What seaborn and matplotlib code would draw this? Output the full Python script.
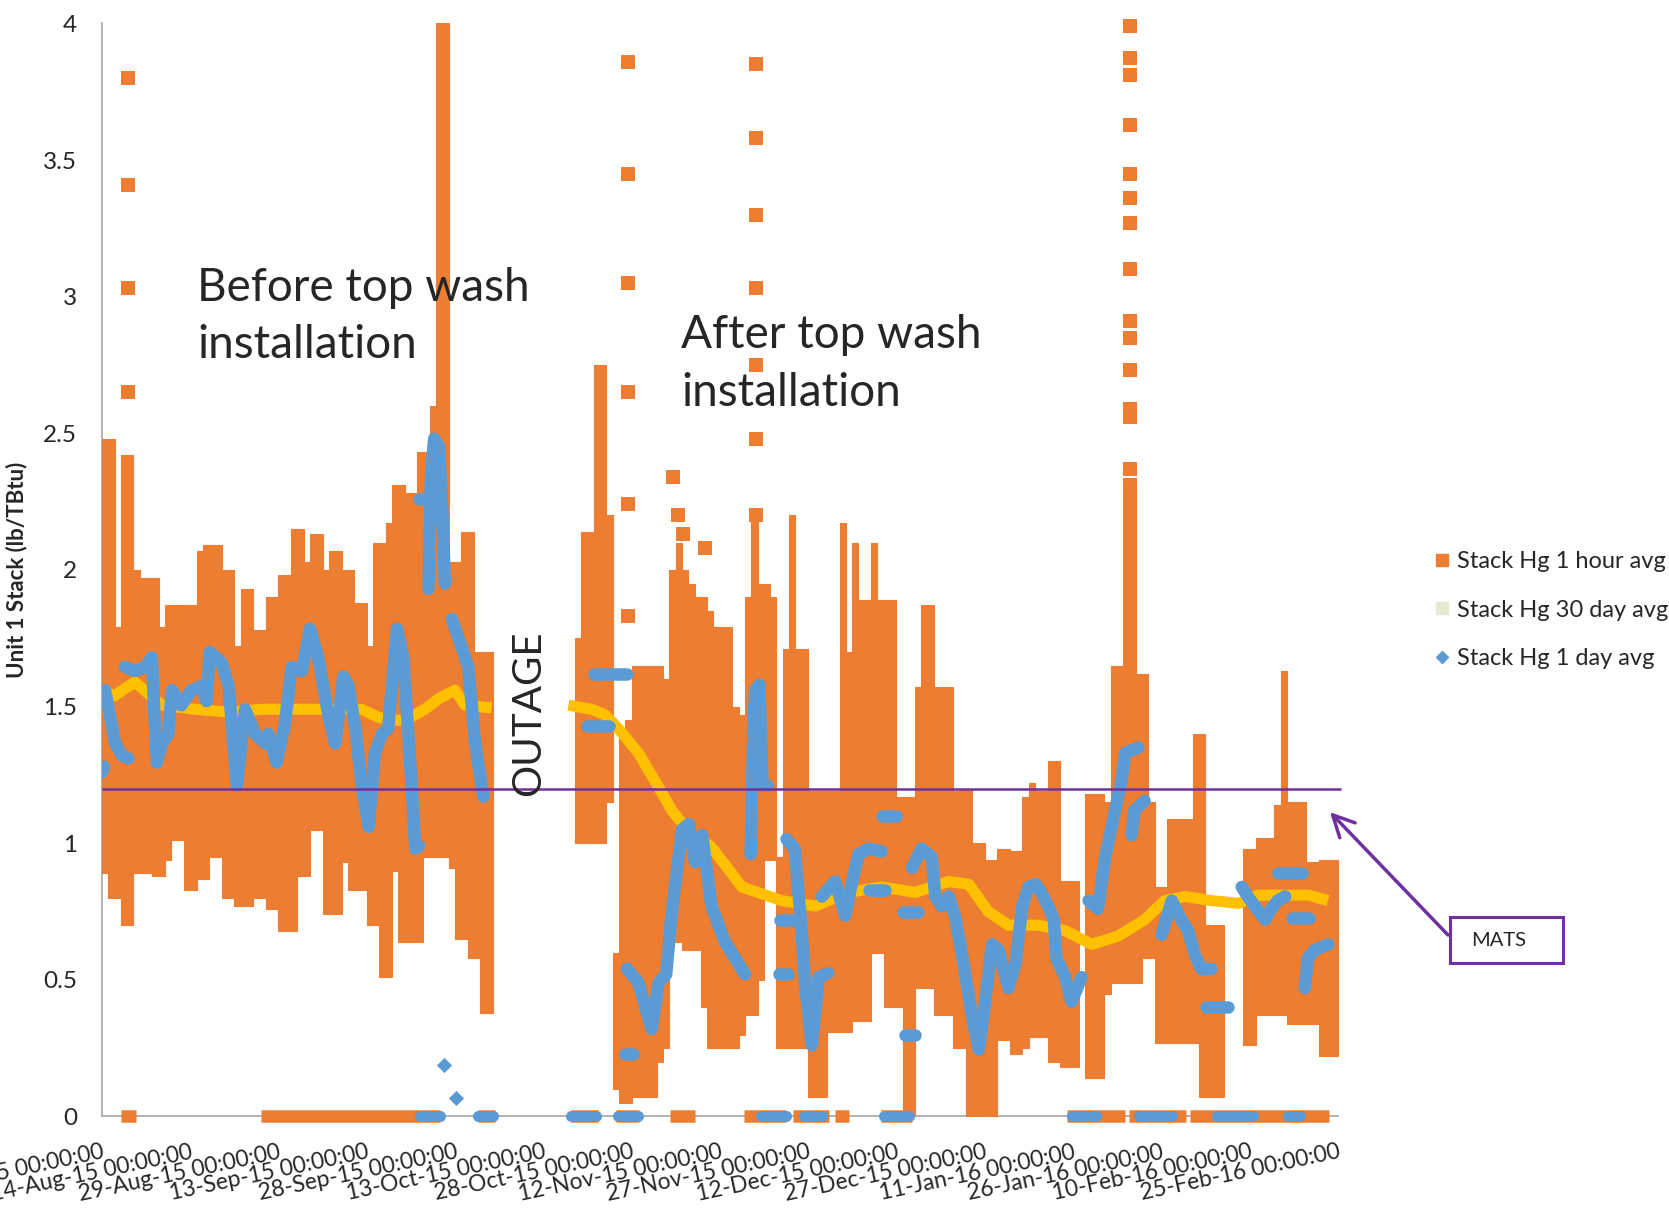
import numpy as np
import pandas as pd
import matplotlib
matplotlib.use("Agg")
import matplotlib.pyplot as plt
from matplotlib.lines import Line2D
from matplotlib.patches import Rectangle
import seaborn as sns

nan = np.nan

# x axis: days since the first tick, one tick mark every 14 days
tick_labels = ["30-Jul-15 00:00:00", "14-Aug-15 00:00:00", "29-Aug-15 00:00:00",
               "13-Sep-15 00:00:00", "28-Sep-15 00:00:00", "13-Oct-15 00:00:00",
               "28-Oct-15 00:00:00", "12-Nov-15 00:00:00", "27-Nov-15 00:00:00",
               "12-Dec-15 00:00:00", "27-Dec-15 00:00:00", "11-Jan-16 00:00:00",
               "26-Jan-16 00:00:00", "10-Feb-16 00:00:00", "25-Feb-16 00:00:00"]

# Stack Hg 1 hour avg: daily spread of the hourly values (high / low), day 0..195
hour_high = [2.48, 2.48, 1.79, 2.42, 2.42, 2.0, 1.97, 1.97, 1.97, 1.79,
             1.87, 1.87, 1.87, 1.87, 1.87, 2.07, 2.09, 2.09, 2.09, 2.0,
             2.0, 1.72, 1.93, 1.93, 1.78, 1.78, 1.9, 1.9, 1.98, 1.98,
             2.15, 2.15, 2.03, 2.13, 2.13, 2.0, 2.07, 2.07, 2.0, 2.0,
             1.88, 1.88, 1.72, 2.1, 2.1, 2.17, 2.31, 2.31, 2.28, 2.28,
             2.43, 2.43, 2.6, 4.0, 4.0, 2.03, 2.03, 2.14, 2.14, 1.7,
             1.7, 1.7, nan, nan, nan, nan, nan, nan, nan, nan,
             nan, nan, nan, nan, nan, 1.75, 2.14, 2.14, 2.75, 2.75,
             2.2, 0.6, 1.4, 1.45, 1.65, 1.65, 1.65, 1.65, 1.65, 1.6,
             2.0, 2.1, 2.0, 1.95, 1.9, 1.9, 1.85, 1.79, 1.79, 1.79,
             1.5, 1.47, 1.9, 2.2, 1.95, 1.95, 1.9, 0.95, 1.71, 2.2,
             1.71, 1.71, 1.19, 1.19, 1.19, 1.19, 1.19, 2.17, 1.7, 2.1,
             1.89, 1.89, 2.1, 1.89, 1.89, 1.89, 1.17, 1.17, 1.17, 1.57,
             1.87, 1.87, 1.57, 1.57, 1.57, 1.19, 1.2, 1.2, 1.0, 1.0,
             0.94, 0.94, 0.98, 0.98, 0.97, 0.97, 1.17, 1.22, 1.19, 1.19,
             1.3, 1.3, 0.86, 0.86, 0.86, nan, 1.18, 1.18, 1.18, 1.15,
             1.65, 1.65, 2.3, 2.3, 1.62, 1.62, 1.15, 0.84, 0.84, 1.09,
             1.09, 1.09, 1.09, 1.4, 1.4, 0.7, 0.7, 0.7, nan, nan,
             nan, 0.98, 0.98, 1.02, 1.02, 1.02, 1.14, 1.63, 1.15, 1.15,
             1.15, 0.93, 0.93, 0.94, 0.94, 0.94]
hour_low = [0.89, 0.8, 0.8, 0.7, 0.7, 0.89, 0.89, 0.89, 0.88, 0.88,
            0.94, 1.01, 1.01, 0.83, 0.83, 0.87, 0.87, 0.95, 0.95, 0.8,
            0.8, 0.77, 0.77, 0.77, 0.8, 0.8, 0.76, 0.76, 0.68, 0.68,
            0.68, 0.88, 0.88, 1.05, 1.05, 0.74, 0.74, 0.74, 0.93, 0.83,
            0.83, 0.83, 0.7, 0.7, 0.51, 0.51, 0.9, 0.64, 0.64, 0.64,
            0.64, 0.95, 0.95, 0.95, 0.95, 0.91, 0.65, 0.65, 0.58, 0.58,
            0.38, 0.38, nan, nan, nan, nan, nan, nan, nan, nan,
            nan, nan, nan, nan, nan, 1.0, 1.0, 1.0, 1.0, 1.0,
            1.15, 0.1, 0.05, 0.05, 0.07, 0.07, 0.07, 0.07, 0.2, 0.25,
            0.64, 0.64, 0.61, 0.61, 0.61, 0.4, 0.25, 0.25, 0.25, 0.25,
            0.25, 0.3, 0.37, 0.37, 0.5, 0.94, 0.94, 0.25, 0.25, 0.25,
            0.25, 0.25, 0.07, 0.07, 0.07, 0.31, 0.31, 0.31, 0.31, 0.35,
            0.35, 0.35, 0.6, 0.6, 0.4, 0.4, 0.4, 0.0, 0.0, 0.47,
            0.47, 0.47, 0.37, 0.37, 0.37, 0.25, 0.25, 0.0, 0.0, 0.0,
            0.0, 0.0, 0.28, 0.28, 0.23, 0.23, 0.25, 0.29, 0.29, 0.29,
            0.2, 0.2, 0.18, 0.18, 0.18, nan, 0.14, 0.14, 0.14, 0.45,
            0.49, 0.49, 0.49, 0.49, 0.49, 0.58, 0.58, 0.27, 0.27, 0.27,
            0.27, 0.27, 0.27, 0.27, 0.07, 0.07, 0.07, 0.07, nan, nan,
            nan, 0.26, 0.26, 0.37, 0.37, 0.37, 0.37, 0.37, 0.34, 0.34,
            0.34, 0.34, 0.34, 0.22, 0.22, 0.22]

# isolated hourly values standing above the daily spread
spike_day = [4.2, 4.2, 4.2, 4.2,
             83.5, 83.5, 83.5, 83.5, 83.5, 83.5,
             90.6, 91.3, 92.2, 95.6,
             103.8, 103.8, 103.8, 103.8, 103.8, 103.8, 103.8,
             163.0, 163.0, 163.0, 163.0, 163.0, 163.0, 163.0, 163.0,
             163.0, 163.0, 163.0, 163.0, 163.0, 163.0, 163.0]
spike_val = [3.80, 3.41, 3.03, 2.65,
             3.86, 3.45, 3.05, 2.65, 2.24, 1.83,
             2.34, 2.2, 2.13, 2.08,
             3.85, 3.58, 3.30, 3.03, 2.75, 2.48, 2.2,
             3.99, 3.875, 3.81, 3.63, 3.45, 3.36, 3.27, 3.10,
             2.91, 2.85, 2.73, 2.59, 2.56, 2.37, 2.31]

# hours reading zero (start / end day)
zero_start = [3.0, 25.2, 59.6, 74.4, 81.5, 90.1, 101.9, 109.6, 116.3, 123.6, 153.1, 162.9, 172.6]
zero_end = [5.4, 53.6, 62.3, 78.7, 85.2, 94.1, 108.5, 115.3, 118.5, 128.5, 162.3, 172.0, 194.7]

# Stack Hg 30 day avg
avg30_day = [0, 2, 5.2, 9.5, 14.8, 20, 25.3, 30.6, 35.9, 41.2, 43.9, 46.5, 48.1, 51.2,
             53.5, 56, 57.6, 61.8,
             74.0, 77.7, 79.8, 81.9, 85.1, 87.8, 90.4, 93.6, 96.5, 98.9, 101.5, 104.0,
             107.8, 113.1, 118.4, 123.7, 129.0, 134.3, 137.5, 140.6, 143.8, 148.5,
             152.8, 157.0, 161.2, 165.4, 168.6, 171.8, 176.0, 180.3, 183.4, 191.4, 194.5]
avg30_val = [1.56, 1.54, 1.59, 1.505, 1.49, 1.48, 1.49, 1.49, 1.49, 1.49, 1.46, 1.45, 1.45, 1.49,
             1.53, 1.56, 1.505, 1.495,
             1.505, 1.49, 1.47, 1.42, 1.33, 1.225, 1.12, 1.03, 0.99, 0.92, 0.84, 0.82,
             0.79, 0.77, 0.82, 0.84, 0.82, 0.86, 0.85, 0.75, 0.70, 0.70,
             0.68, 0.63, 0.66, 0.72, 0.79, 0.805, 0.79, 0.78, 0.81, 0.81, 0.79]
avg30_seg = [0] * 18 + [1] * 33

# Stack Hg 1 day avg
avg1_day = [0.0, 0.3,
            0.5, 2.1, 3.2, 4.2,
            3.7, 5.2, 6.8, 7.9, 8.7, 9.5, 10.5, 11.1, 12.6, 14.2, 15.8, 16.6, 17.1, 19.0,
            20.1, 21.4, 22.7, 24.3, 25.9, 26.4, 27.7, 29.0, 30.1, 31.7, 33.0, 34.3, 35.9,
            37.0, 38.3, 39.1, 40.2, 41.2, 42.3, 43.3, 44.4, 45.4, 46.8, 47.8, 48.9, 49.7, 50.3,
            50.3, 52.0,
            51.8, 52.2, 52.7, 53.5, 54.0, 54.4,
            55.5, 57.1, 58.1, 59.2, 60.5,
            78.0, 83.3,
            77.0, 80.5,
            83.0, 84.3,
            83.3, 85.1, 87.2, 88.3, 89.5, 90.4, 92.0, 93.1, 94.1, 95.2, 96.7, 97.5, 98.8,
            100.4, 102.0,
            102.9, 103.2, 103.6, 104.3, 104.6, 104.8, 105.6,
            107.4, 108.9,
            107.6, 110.0,
            108.6, 109.9, 111.0, 111.5, 112.6, 113.7, 115.2,
            114.2, 116.3, 117.9, 119.0, 120.0, 121.6, 123.7,
            123.7, 126.0,
            121.6, 124.2,
            127.0, 129.5,
            127.4, 129.0,
            128.5, 130.0, 131.6, 132.2, 133.2, 134.3, 135.3, 136.4, 138.0, 139.1, 140.1,
            141.2, 142.2, 143.8, 144.9, 146.0, 147.0, 148.1, 149.0, 150.1, 151.0, 151.4,
            152.8, 153.8, 155.4,
            156.5, 158.0, 159.1, 160.7, 161.7, 162.3, 164.4,
            163.3, 163.8, 165.4,
            168.1, 169.7, 171.2, 172.3, 173.4, 174.4, 176.0,
            175.2, 178.7,
            180.8, 181.9, 182.9, 184.5, 185.5, 186.5, 187.7,
            186.6, 190.3,
            188.7, 191.4,
            190.8, 191.3, 192.4, 194.5]
avg1_val = [1.26, 1.28,
            1.56, 1.365, 1.32, 1.31,
            1.645, 1.63, 1.645, 1.68, 1.295, 1.365, 1.40, 1.56, 1.505, 1.56, 1.575, 1.52, 1.70, 1.66,
            1.575, 1.21, 1.49, 1.40, 1.365, 1.40, 1.295, 1.435, 1.645, 1.63, 1.785, 1.68, 1.47,
            1.365, 1.61, 1.575, 1.42, 1.21, 1.06, 1.33, 1.40, 1.42, 1.785, 1.68, 1.295, 0.98, 0.99,
            2.26, 2.26,
            1.93, 2.35, 2.48, 2.45, 2.2, 1.95,
            1.82, 1.715, 1.645, 1.365, 1.17,
            1.62, 1.62,
            1.43, 1.43,
            0.23, 0.23,
            0.54, 0.49, 0.32, 0.49, 0.52, 0.75, 1.05, 1.07, 0.93, 1.03, 0.77, 0.72, 0.64,
            0.58, 0.52,
            0.96, 1.30, 1.56, 1.58, 1.35, 1.21, 1.21,
            0.52, 0.52,
            0.72, 0.72,
            1.015, 0.98, 0.68, 0.49, 0.26, 0.51, 0.525,
            0.805, 0.86, 0.735, 0.86, 0.96, 0.98, 0.97,
            1.10, 1.10,
            0.83, 0.83,
            0.75, 0.75,
            0.30, 0.30,
            0.91, 0.98, 0.95, 0.805, 0.77, 0.805, 0.735, 0.595, 0.37, 0.245, 0.42,
            0.63, 0.61, 0.47, 0.56, 0.77, 0.84, 0.85, 0.82, 0.77, 0.72, 0.58,
            0.51, 0.42, 0.51,
            0.79, 0.76, 0.945, 1.12, 1.225, 1.33, 1.35,
            1.03, 1.12, 1.155,
            0.665, 0.79, 0.72, 0.68, 0.59, 0.54, 0.54,
            0.40, 0.40,
            0.84, 0.80, 0.77, 0.72, 0.76, 0.79, 0.805,
            0.89, 0.89,
            0.725, 0.725,
            0.47, 0.58, 0.61, 0.63]
avg1_seg = ([0] * 2 + [1] * 4 + [2] * 41 + [3] * 2 + [4] * 6 + [5] * 5 + [6] * 2 + [7] * 2
            + [8] * 2 + [9] * 15 + [10] * 7 + [11] * 2 + [12] * 2 + [13] * 7 + [14] * 7
            + [15] * 2 + [16] * 2 + [17] * 2 + [18] * 2 + [19] * 25 + [20] * 7 + [21] * 3
            + [22] * 7 + [23] * 2 + [24] * 7 + [25] * 2 + [26] * 2 + [27] * 4)
avg1_dot_day = [54.3, 56.1]
avg1_dot_val = [0.187, 0.066]
avg1_zero_start = [50.4, 59.6, 74.4, 81.8, 104.6, 111.4, 124.0, 153.9, 164.5, 176.9, 188.2]
avg1_zero_end = [53.6, 62.1, 78.3, 85.0, 108.5, 114.2, 128.0, 157.7, 169.8, 182.6, 190.0]

MATS = 1.2

orange = "#ED7D31"
blue = "#5B9BD5"
yellow = "#FFC000"
purple = "#7030A0"
grey = "#A6A6A6"

sns.set_style("white")
plt.rcParams["font.family"] = ["Lato", "DejaVu Sans"]

fig = plt.figure(figsize=(16.69, 12.12), dpi=100)
ax = fig.add_axes([0.0611, 0.0788, 0.7403, 0.9019])

days = np.arange(len(hour_high))
hi = np.array(hour_high)
lo = np.array(hour_low)
ax.bar(days, hi - lo, bottom=lo, width=1.0, align="edge", color=orange,
       edgecolor=orange, linewidth=0.8, zorder=2, clip_on=False)
ax.hlines(np.zeros(len(zero_start)), zero_start, zero_end, color=orange, linewidth=9,
          zorder=2, clip_on=False)
sns.scatterplot(x=spike_day, y=spike_val, marker="s", s=90, color=orange,
                linewidth=0, zorder=2, ax=ax, clip_on=False)

df30 = pd.DataFrame({"day": avg30_day, "val": avg30_val, "seg": avg30_seg})
sns.lineplot(data=df30, x="day", y="val", units="seg", estimator=None, sort=False,
             color=yellow, linewidth=8, solid_capstyle="butt", zorder=3, ax=ax)

df1 = pd.DataFrame({"day": avg1_day, "val": avg1_val, "seg": avg1_seg})
sns.lineplot(data=df1, x="day", y="val", units="seg", estimator=None, sort=False,
             color=blue, linewidth=9, solid_capstyle="round", solid_joinstyle="round",
             zorder=4, ax=ax)
sns.scatterplot(x=avg1_dot_day, y=avg1_dot_val, marker="D", s=60, color=blue,
                linewidth=0, zorder=4, ax=ax)
ax.hlines(np.zeros(len(avg1_zero_start)), avg1_zero_start, avg1_zero_end, color=blue,
          linewidth=8, capstyle="round", zorder=4, clip_on=False)

ax.hlines(MATS, 0, 196.5, color=purple, linewidth=1.8, zorder=5, clip_on=False)

ax.set_xlim(0, 196)
ax.set_ylim(0, 4)
ax.set_xlabel("")
ax.set_ylabel("Unit 1 Stack (lb/TBtu)", fontsize=16, fontweight="bold")
ax.yaxis.set_label_coords(-0.060, 0.5)

ax.set_xticks(np.arange(0, 197, 14))
ax.set_xticklabels(tick_labels, rotation=12, ha="right", va="top",
                   rotation_mode="anchor", fontsize=16.5, color="#262626")
ax.set_yticks(np.arange(0, 4.01, 0.5))
ax.set_yticklabels(["0", "0.5", "1", "1.5", "2", "2.5", "3", "3.5", "4"],
                   fontsize=17.5, color="#262626")
ax.set_yticks(np.arange(0, 4.01, 0.1), minor=True)
ax.tick_params(axis="both", which="major", direction="out", length=7, width=1, color=grey)
ax.tick_params(axis="y", which="minor", direction="out", length=5, width=1, color=grey)
ax.tick_params(axis="x", pad=11)
ax.tick_params(axis="y", pad=11)
for side in ["top", "right"]:
    ax.spines[side].set_visible(False)
for side in ["left", "bottom"]:
    ax.spines[side].set_color(grey)
    ax.spines[side].set_linewidth(1.2)
    ax.spines[side].set_zorder(1)

ax.text(15.1, 3.11, "Before top wash\ninstallation", fontsize=33, ha="left", va="top",
        linespacing=1.45, zorder=6)
ax.text(91.9, 2.935, "After top wash\ninstallation", fontsize=33, ha="left", va="top",
        linespacing=1.45, zorder=6)
ax.text(67.7, 1.476, "OUTAGE", rotation=90, ha="center", va="center", fontsize=29,
        zorder=6)

# MATS call-out box and arrow
fig.patches.append(Rectangle((1450 / 1669, 1 - 963 / 1212), 113 / 1669, 46 / 1212,
                             transform=fig.transFigure, fill=False, edgecolor=purple,
                             linewidth=2.2))
fig.text(1499 / 1669, 1 - 941 / 1212, "MATS", ha="center", va="center", fontsize=14.5,
         color="#262626")
ax.annotate("", xy=(194.8, 1.114), xycoords="data",
            xytext=(1448 / 1669, 1 - 935 / 1212), textcoords="figure fraction",
            arrowprops=dict(arrowstyle="->,head_length=0.7,head_width=0.35", color=purple,
                            lw=2.5, mutation_scale=22, shrinkA=0, shrinkB=0),
            annotation_clip=False)

handles = [Line2D([], [], marker="s", color=orange, linestyle="None", markersize=9),
           Line2D([], [], marker="s", color="#E6EAD2", linestyle="None", markersize=9),
           Line2D([], [], marker="D", color=blue, linestyle="None", markersize=6)]
fig.legend(handles, ["Stack Hg 1 hour avg", "Stack Hg 30 day avg", "Stack Hg 1 day avg"],
           loc="upper left", bbox_to_anchor=(0.8455, 0.563), frameon=False, fontsize=17,
           handlelength=0.8, handletextpad=0.25, labelspacing=1.17)

fig.savefig("out.png", dpi=100)
